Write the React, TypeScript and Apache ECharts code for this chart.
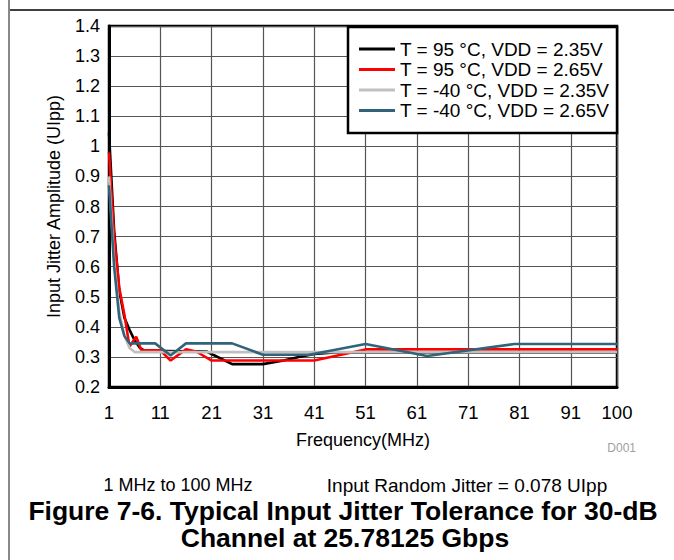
import React, { useEffect, useRef } from "react";
import * as echarts from "echarts";

// ---- data (frequency in MHz, amplitude in UIpp) ----
const seriesNames = [
  "T = 95 °C, VDD = 2.35V",
  "T = 95 °C, VDD = 2.65V",
  "T = -40 °C, VDD = 2.35V",
  "T = -40 °C, VDD = 2.65V",
];

const freqBlack = [1, 2, 3, 4, 5, 6, 7, 8, 20, 25, 31, 35, 38, 41, 45, 100];
const valBlack = [1.045, 0.72, 0.52, 0.43, 0.39, 0.355, 0.33, 0.32, 0.318, 0.276, 0.276, 0.288, 0.3, 0.31, 0.315, 0.315];

const freqRed = [1, 2, 3, 4, 5, 6.3, 7.3, 11, 13, 16, 18, 21, 41, 51, 100];
const valRed = [0.98, 0.7, 0.53, 0.44, 0.335, 0.367, 0.322, 0.322, 0.288, 0.325, 0.318, 0.288, 0.288, 0.325, 0.325];

const freqGray = [1, 2, 3, 4, 5, 6, 100];
const valGray = [0.9, 0.62, 0.45, 0.37, 0.33, 0.316, 0.316];

const freqBlue = [1, 2, 3, 4, 5, 10, 13, 16, 25, 31, 40, 51, 63, 80, 100];
const valBlue = [0.87, 0.6, 0.43, 0.37, 0.345, 0.345, 0.305, 0.345, 0.345, 0.307, 0.307, 0.343, 0.303, 0.343, 0.343];

const seriesColors = ["#000000", "#ff0000", "#c0c0c0", "#31647a"];

const xMinFreq = 1;
const xMaxFreq = 100;
const xTickStep = 10;
const yMin = 0.2;
const yMax = 1.4;
const yStep = 0.1;

const FONT = "Liberation Sans, Arial, Helvetica, sans-serif";

function toPairs(f: number[], v: number[]) {
  // x axis is offset so that ticks fall on 1, 11, 21 ... (axis value = f - 1)
  return f.map((x, i) => [x - xMinFreq, v[i]]);
}

export default function App() {
  const ref = useRef<HTMLDivElement>(null);

  useEffect(() => {
    if (!ref.current) return;
    const chart = echarts.init(ref.current, undefined, { renderer: "svg" });

    const allData = [
      toPairs(freqBlack, valBlack),
      toPairs(freqRed, valRed),
      toPairs(freqGray, valGray),
      toPairs(freqBlue, valBlue),
    ];

    chart.setOption({
      animation: false,
      backgroundColor: "#ffffff",
      textStyle: { fontFamily: FONT },
      grid: {
        left: 109,
        right: 57,
        top: 26,
        bottom: 173,
        show: true,
        borderColor: "#000",
        borderWidth: 2.5,
        backgroundColor: "transparent",
      },
      xAxis: {
        type: "value",
        min: 0,
        max: xMaxFreq - xMinFreq,
        interval: xTickStep,
        name: "Frequency(MHz)",
        nameLocation: "middle",
        nameGap: 44,
        nameTextStyle: { fontSize: 18, color: "#000", fontFamily: FONT },
        axisLine: { show: true, lineStyle: { color: "#000", width: 3 } },
        axisTick: { show: false },
        axisLabel: {
          fontSize: 18.5,
          color: "#000",
          fontFamily: FONT,
          margin: 16,
          formatter: (v: number) => String(Math.round(v + xMinFreq)),
        },
        splitLine: { show: true, lineStyle: { color: "#555", width: 1.2 } },
      },
      yAxis: {
        type: "value",
        min: yMin,
        max: yMax,
        interval: yStep,
        name: "Input Jitter Amplitude (UIpp)",
        nameLocation: "middle",
        nameGap: 46,
        nameTextStyle: { fontSize: 18, color: "#000", fontFamily: FONT },
        axisLine: { show: true, lineStyle: { color: "#000", width: 3 } },
        axisTick: { show: false },
        axisLabel: {
          fontSize: 18,
          color: "#000",
          fontFamily: FONT,
          margin: 9,
          formatter: (v: number) => String(Math.round(v * 10) / 10),
        },
        splitLine: { show: true, lineStyle: { color: "#555", width: 1.2 } },
      },
      legend: {
        orient: "vertical",
        left: 359,
        top: 39,
        padding: 0,
        icon: "rect",
        itemWidth: 36,
        itemHeight: 3,
        itemGap: 0.5,
        itemTextGap: 8,
        z: 6,
        textStyle: { fontSize: 19, lineHeight: 20, color: "#000", fontFamily: FONT },
        data: seriesNames,
        selectedMode: false,
      },
      series: seriesNames.map((name, i) => ({
        type: "line",
        name,
        data: allData[i],
        symbol: "none",
        showSymbol: false,
        lineStyle: { color: seriesColors[i], width: 2.6 },
        itemStyle: { color: seriesColors[i] },
        z: 2 + i,
      })),
      graphic: [
        {
          type: "rect",
          z: 5,
          shape: { x: 348, y: 27, width: 269, height: 106 },
          style: { fill: "#fff", stroke: "#000", lineWidth: 2.5 },
        },
        {
          type: "line",
          z: 10,
          shape: { x1: 9, y1: 10, x2: 674, y2: 10 },
          style: { stroke: "#000", lineWidth: 1.5 },
        },
        {
          type: "line",
          z: 10,
          shape: { x1: 9, y1: 0, x2: 9, y2: 560 },
          style: { stroke: "#888", lineWidth: 2 },
        },
        {
          type: "text",
          z: 10,
          style: {
            x: 636,
            y: 448,
            text: "D001",
            fill: "#a0a0a0",
            font: `12px ${FONT}`,
            textAlign: "right",
            textVerticalAlign: "middle",
          },
        },
        {
          type: "text",
          z: 10,
          style: {
            x: 178,
            y: 485,
            text: "1 MHz to 100 MHz",
            fill: "#000",
            font: `18px ${FONT}`,
            textAlign: "center",
            textVerticalAlign: "middle",
          },
        },
        {
          type: "text",
          z: 10,
          style: {
            x: 467,
            y: 485,
            text: "Input Random Jitter = 0.078 UIpp",
            fill: "#000",
            font: `19px ${FONT}`,
            textAlign: "center",
            textVerticalAlign: "middle",
          },
        },
        {
          type: "text",
          z: 10,
          style: {
            x: 343,
            y: 511,
            text: "Figure 7-6. Typical Input Jitter Tolerance for 30-dB",
            fill: "#000",
            font: `bold 26.5px ${FONT}`,
            textAlign: "center",
            textVerticalAlign: "middle",
          },
        },
        {
          type: "text",
          z: 10,
          style: {
            x: 345,
            y: 538,
            text: "Channel at 25.78125 Gbps",
            fill: "#000",
            font: `bold 26.5px ${FONT}`,
            textAlign: "center",
            textVerticalAlign: "middle",
          },
        },
      ],
    });

    return () => chart.dispose();
  }, []);

  return (
    <div
      ref={ref}
      style={{ position: "fixed", left: 0, top: 0, width: 674, height: 560 }}
    />
  );
}
